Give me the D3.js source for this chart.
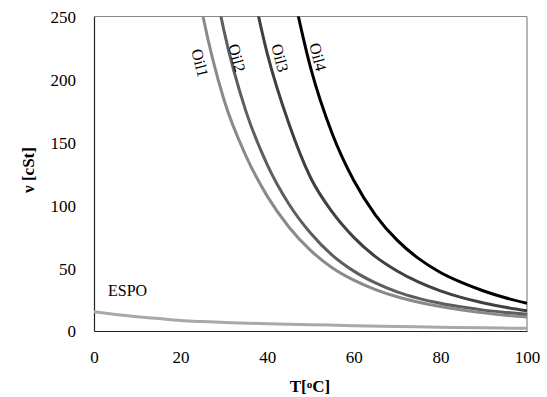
<!DOCTYPE html>
<html>
<head>
<meta charset="utf-8">
<script src="https://cdn.jsdelivr.net/npm/d3@7"></script>
<style>
  body { margin: 0; background: #fff; }
  text { font-family: "Liberation Serif", "Times New Roman", serif; }
</style>
</head>
<body>
<div id="chart"></div>
<script>
// Temperature grid (degC) and viscosity readings (cSt) per oil
const tOil1 = [20, 25, 30, 35, 40, 45, 50, 55, 60, 65, 70, 75, 80, 85, 90, 95, 100];
const oil1 = [356, 253, 184, 139.8, 107.2, 82.7, 64.1, 50.3, 40.4, 32.9, 27.2, 22.9, 19.4, 16.6, 14.4, 12.5, 11.1];
const tOil2 = [25, 30, 35, 40, 45, 50, 55, 60, 65, 70, 75, 80, 85, 90, 95, 100];
const oil2 = [332, 239, 175.6, 132.3, 101, 77.9, 60.3, 47.6, 38.2, 31.1, 25.9, 22, 19, 16.6, 14.8, 13.3];
const tOil3 = [35, 40, 45, 50, 55, 60, 65, 70, 75, 80, 85, 90, 95, 100];
const oil3 = [299, 220.7, 164.9, 122, 94.6, 74.4, 59.1, 47.7, 38.8, 31.9, 26.5, 22.3, 18.9, 16.1];
const tOil4 = [45, 50, 55, 60, 65, 70, 75, 80, 85, 90, 95, 100];
const oil4 = [285, 209.6, 157, 119.6, 92.2, 72.2, 57.5, 46.5, 38.4, 31.8, 26.4, 22];
const tEspo = [0, 5, 10, 15, 20, 25, 30, 40, 50, 60, 70, 80, 90, 100];
const espo = [15.3, 13.2, 11.4, 9.9, 8.4, 7.5, 6.8, 5.8, 5.0, 4.2, 3.6, 3.0, 2.5, 2.1];
const xTicks = [0, 20, 40, 60, 80, 100];
const yTicks = [0, 50, 100, 150, 200, 250];

//Chart dimensions
const width = 547;
const height = 397;
const margin = { top: 16.5, right: 20, bottom: 66, left: 94 };
const innerW = width - margin.left - margin.right;
const innerH = height - margin.top - margin.bottom;

const svg = d3.select('#chart')
  .append('svg')
  .attr('width', width)
  .attr('height', height);

const g = svg.append('g')
  .attr('transform', `translate(${margin.left}, ${margin.top})`);

const xScale = d3.scaleLinear().domain([0, 100]).range([0, innerW]);
const yScale = d3.scaleLinear().domain([0, 250]).range([innerH, 0]);

//Clip curves to plot area
svg.append('defs').append('clipPath')
  .attr('id', 'plotClip')
  .append('rect')
  .attr('width', innerW)
  .attr('height', innerH);

//Plot area frame: grey top/right, dark left/bottom
g.append('line').attr('x1', 0).attr('x2', innerW).attr('y1', 0).attr('y2', 0)
  .attr('stroke', '#888').attr('stroke-width', 1.2);
g.append('line').attr('x1', innerW).attr('x2', innerW).attr('y1', 0).attr('y2', innerH)
  .attr('stroke', '#888').attr('stroke-width', 1.2);

//Axes (no tick marks)
const xAxis = g.append('g')
  .attr('transform', `translate(0, ${innerH})`)
  .call(d3.axisBottom(xScale).tickValues(xTicks).tickSize(0).tickPadding(20));
const yAxis = g.append('g')
  .call(d3.axisLeft(yScale).tickValues(yTicks).tickSize(0).tickPadding(18));
[xAxis, yAxis].forEach(ax => {
  ax.attr('font-family', null);
  ax.select('.domain').attr('stroke', '#222').attr('stroke-width', 1.2);
  ax.selectAll('text')
    .style('font-family', '"Liberation Serif", "Times New Roman", serif')
    .style('font-size', '17px')
    .attr('fill', '#000');
});
yAxis.selectAll('text').attr('dy', '0.35em');

//Series
const series = [
  { name: 'ESPO', t: tEspo, v: espo, color: '#a8a8a8' },
  { name: 'Oil1', t: tOil1, v: oil1, color: '#8a8a8a' },
  { name: 'Oil2', t: tOil2, v: oil2, color: '#5e5e5e' },
  { name: 'Oil3', t: tOil3, v: oil3, color: '#404040' },
  { name: 'Oil4', t: tOil4, v: oil4, color: '#000000' }
];

const lineGenerator = d3.line()
  .x(d => xScale(d[0]))
  .y(d => yScale(d[1]))
  .curve(d3.curveMonotoneX);

g.append('g')
  .attr('clip-path', 'url(#plotClip)')
  .selectAll('path')
  .data(series)
  .join('path')
  .attr('fill', 'none')
  .attr('stroke', d => d.color)
  .attr('stroke-width', 3)
  .attr('d', d => lineGenerator(d.t.map((t, i) => [t, d.v[i]])));

//Curve labels
const curveLabels = [
  { text: 'Oil1', x: 200, y: 63 },
  { text: 'Oil2', x: 237, y: 58 },
  { text: 'Oil3', x: 280, y: 58 },
  { text: 'Oil4', x: 318, y: 57 }
];
svg.selectAll('.curve-label')
  .data(curveLabels)
  .join('text')
  .attr('class', 'curve-label')
  .attr('transform', d => `translate(${d.x}, ${d.y}) rotate(76)`)
  .attr('text-anchor', 'middle')
  .attr('dominant-baseline', 'central')
  .style('font-size', '16px')
  .text(d => d.text);

svg.append('text')
  .attr('x', 108)
  .attr('y', 296)
  .style('font-size', '16px')
  .text('ESPO');

//Axis titles
svg.append('text')
  .attr('transform', `translate(34, 170) rotate(-90)`)
  .attr('text-anchor', 'middle')
  .style('font-size', '17px')
  .style('font-weight', 'bold')
  .text('ν [cSt]');

const xTitle = svg.append('text')
  .attr('x', 310)
  .attr('y', 392)
  .attr('text-anchor', 'middle')
  .style('font-size', '17px')
  .style('font-weight', 'bold');
xTitle.append('tspan').text('T[');
xTitle.append('tspan').attr('baseline-shift', '35%').style('font-size', '11px').text('o');
xTitle.append('tspan').text('C]');
</script>
</body>
</html>
